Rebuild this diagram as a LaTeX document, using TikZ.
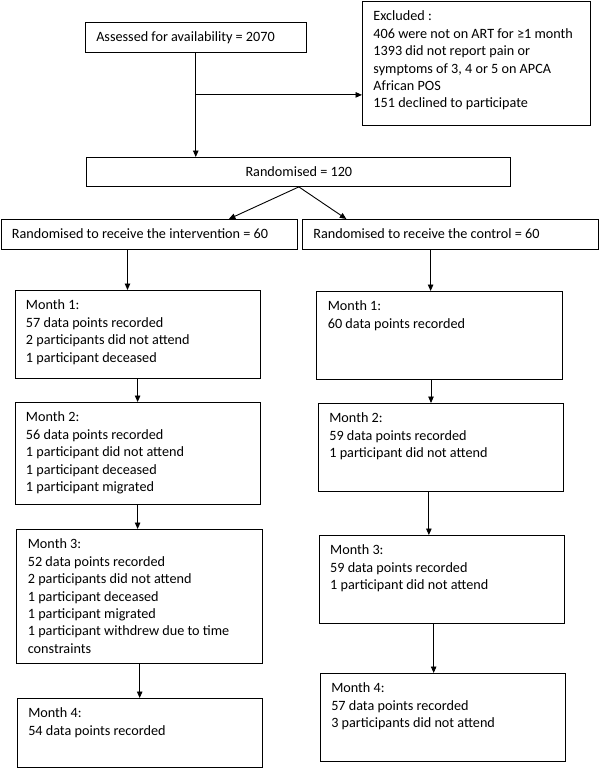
\documentclass[tikz,border=0pt]{standalone}
\usepackage{fontspec}
\setmainfont{Carlito}
\usetikzlibrary{arrows.meta,calc}
\newcommand\bxt[3]{\begin{minipage}[c][#2][t]{#1}\raggedright\leftskip=11pt\rule{0pt}{19.5pt}#3\end{minipage}}
\tikzset{
  box/.style={draw, line width=0.9pt, inner sep=0pt, anchor=north west},
  arr/.style={-{Triangle[length=6.5pt,width=5.5pt]}, line width=0.9pt},
}
\begin{document}
\begin{tikzpicture}[x=1pt,y=-1pt,font=\fontsize{14.2}{17.4}\selectfont]
\useasboundingbox (0,0) rectangle (600,768);
% top
\node[box] (ass) at (84.8,22) {\bxt{221pt}{30pt}{Assessed for availability = 2070}};
\node[box] (exc) at (362,1) {\bxt{228pt}{124pt}{Excluded :\\406 were not on ART for ≥1 month\\1393 did not report pain or\\symptoms of 3, 4 or 5 on APCA\\African POS\\151 declined to participate}};
\node[box, minimum width=424pt, minimum height=29pt] (rand) at (86.4,157) {Randomised = 120};
\node[box] (int) at (0.5,219) {\bxt{296.4pt}{30pt}{Randomised to receive the intervention = 60}};
\node[box] (ctl) at (301.9,219) {\bxt{296pt}{30pt}{Randomised to receive the control = 60}};
% left column
\node[box] (lm1) at (14.5,290) {\bxt{245.3pt}{88pt}{Month 1:\\57 data points recorded\\2 participants did not attend\\1 participant deceased}};
\node[box] (lm2) at (14.5,402) {\bxt{245.3pt}{102pt}{Month 2:\\56 data points recorded\\1 participant did not attend\\1 participant deceased\\1 participant migrated}};
\node[box] (lm3) at (16.4,529) {\bxt{245.7pt}{134pt}{Month 3:\\52 data points recorded\\2 participants did not attend\\1 participant deceased\\1 participant migrated\\1 participant withdrew due to time\\constraints}};
\node[box] (lm4) at (16.8,698) {\bxt{245.3pt}{68.5pt}{Month 4:\\54 data points recorded}};
% right column
\node[box] (rm1) at (316.4,291) {\bxt{245.3pt}{88pt}{Month 1:\\60 data points recorded}};
\node[box] (rm2) at (317.9,403) {\bxt{245pt}{88pt}{Month 2:\\59 data points recorded\\1 participant did not attend}};
\node[box] (rm3) at (318.7,535) {\bxt{245pt}{88pt}{Month 3:\\59 data points recorded\\1 participant did not attend}};
\node[box] (rm4) at (319.8,673) {\bxt{245pt}{88pt}{Month 4:\\57 data points recorded\\3 participants did not attend}};
% connectors
\draw[arr] (ass.south) -- (ass.south |- rand.north);
\coordinate (br) at ($(ass.south)+(0,42)$);
\draw[arr] (br) -- (br -| exc.west);
\draw[arr] (rand.south) -- ($(rand.south |- int.north)+(-70,0)$);
\draw[arr] (rand.south) -- ($(rand.south |- ctl.north)+(47.5,0)$);
\coordinate (a1) at ($(int.south west)+(127,0)$);
\draw[arr] (a1) -- (a1 |- lm1.north);
\coordinate (b1) at ($(ctl.south west)+(128.7,0)$);
\draw[arr] (b1) -- (b1 |- rm1.north);
\draw[arr] (lm1.south) -- (lm1.south |- lm2.north);
\draw[arr] (lm2.south) -- (lm2.south |- lm3.north);
\draw[arr] (lm3.south) -- (lm3.south |- lm4.north);
\coordinate (b2) at ($(rm1.south)+(-8.5,0)$);
\draw[arr] (b2) -- (b2 |- rm2.north);
\coordinate (b3) at ($(rm2.south)+(-12,0)$);
\draw[arr] (b3) -- (b3 |- rm3.north);
\coordinate (b4) at ($(rm3.south)+(-8,0)$);
\draw[arr] (b4) -- (b4 |- rm4.north);
\end{tikzpicture}
\end{document}
